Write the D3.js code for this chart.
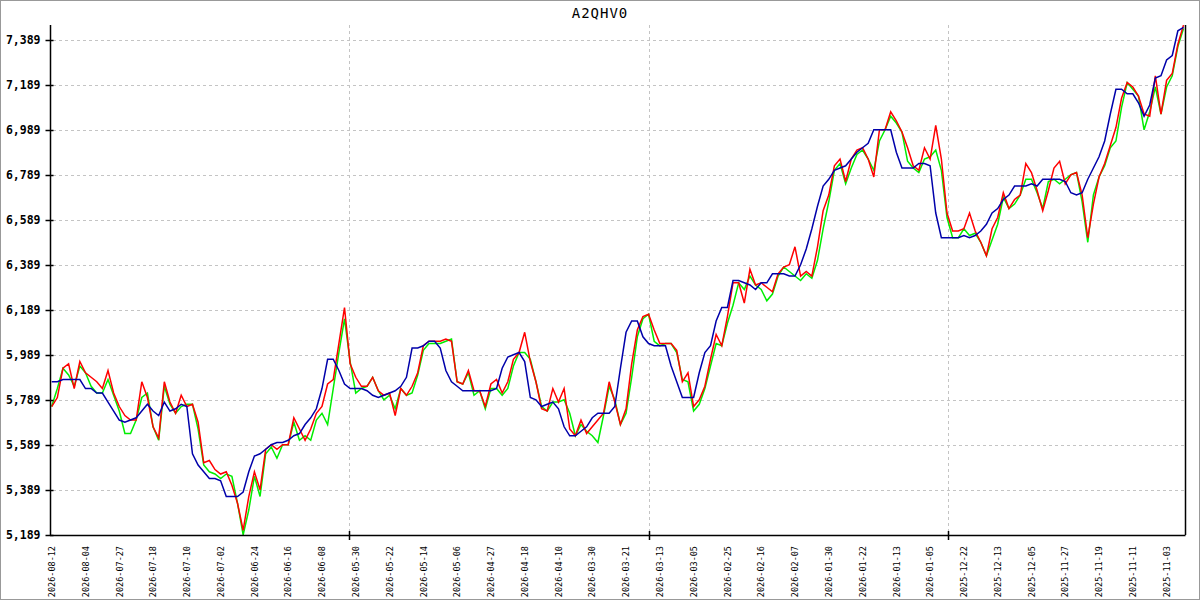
<!DOCTYPE html>
<html><head><meta charset="utf-8">
<script src="https://cdn.jsdelivr.net/npm/d3@7"></script>
<style>body{margin:0;background:#fff}svg{display:block}</style>
</head><body>
<svg id="c" width="1200" height="600"></svg>
<script>
const title = "A2QHV0";
const dateLabels = ["2026-08-12","2026-08-04","2026-07-27","2026-07-18","2026-07-10","2026-07-02","2026-06-24","2026-06-16","2026-06-08","2026-05-30","2026-05-22","2026-05-14","2026-05-06","2026-04-27","2026-04-18","2026-04-10","2026-03-30","2026-03-21","2026-03-13","2026-03-05","2026-02-25","2026-02-16","2026-02-07","2026-01-30","2026-01-22","2026-01-13","2026-01-05","2025-12-22","2025-12-13","2025-12-05","2025-11-27","2025-11-19","2025-11-11","2025-11-03"];
const labelStep = 6;
const yTicks = [5.189,5.389,5.589,5.789,5.989,6.189,6.389,6.589,6.789,6.989,7.189,7.389];
const yTickLabels = ["5,189","5,389","5,589","5,789","5,989","6,189","6,389","6,589","6,789","6,989","7,189","7,389"];

const red = [5.76,5.80,5.93,5.95,5.84,5.96,5.91,5.89,5.87,5.84,5.92,5.82,5.76,5.72,5.70,5.70,5.87,5.80,5.67,5.62,
5.87,5.78,5.73,5.81,5.76,5.77,5.69,5.51,5.52,5.48,5.46,5.47,5.41,5.33,5.21,5.36,5.47,5.39,5.57,5.59,
5.57,5.59,5.59,5.71,5.66,5.61,5.66,5.73,5.76,5.86,5.88,6.04,6.20,5.95,5.89,5.85,5.85,5.89,5.83,5.81,
5.82,5.72,5.84,5.81,5.85,5.91,6.03,6.05,6.05,6.05,6.06,6.05,5.87,5.86,5.92,5.83,5.83,5.76,5.86,5.88,
5.82,5.87,5.97,6.00,6.09,5.96,5.87,5.75,5.74,5.84,5.78,5.84,5.66,5.63,5.70,5.64,5.67,5.70,5.73,5.87,
5.78,5.68,5.75,5.95,6.10,6.16,6.17,6.10,6.04,6.04,6.04,6.01,5.87,5.91,5.76,5.79,5.85,5.97,6.08,6.03,
6.16,6.31,6.31,6.22,6.37,6.30,6.31,6.29,6.27,6.35,6.38,6.39,6.47,6.34,6.36,6.34,6.47,6.63,6.70,6.83,
6.86,6.76,6.86,6.90,6.91,6.86,6.78,6.99,6.99,7.07,7.03,6.98,6.91,6.83,6.81,6.91,6.86,7.01,6.86,6.62,
6.54,6.54,6.55,6.62,6.54,6.49,6.43,6.55,6.60,6.71,6.64,6.68,6.70,6.84,6.80,6.72,6.63,6.72,6.82,6.85,
6.75,6.79,6.80,6.70,6.51,6.66,6.78,6.84,6.92,7.00,7.13,7.20,7.18,7.14,7.06,7.05,7.23,7.06,7.21,7.24,
7.37,7.455];

const green = [5.76,5.84,5.93,5.90,5.85,5.94,5.91,5.85,5.82,5.82,5.88,5.81,5.74,5.64,5.64,5.70,5.80,5.82,5.67,5.61,
5.85,5.77,5.73,5.76,5.77,5.77,5.66,5.50,5.47,5.46,5.44,5.46,5.45,5.33,5.19,5.30,5.45,5.36,5.55,5.58,
5.53,5.59,5.59,5.69,5.61,5.63,5.61,5.70,5.73,5.68,5.84,6.00,6.15,5.96,5.82,5.84,5.85,5.89,5.83,5.79,
5.81,5.75,5.84,5.81,5.82,5.90,6.01,6.04,6.04,6.04,6.05,6.06,5.87,5.86,5.91,5.81,5.83,5.75,5.84,5.84,
5.81,5.84,5.94,6.00,6.00,5.97,5.87,5.76,5.74,5.78,5.78,5.79,5.73,5.63,5.68,5.65,5.63,5.60,5.72,5.85,
5.79,5.68,5.73,5.89,6.07,6.15,6.17,6.05,6.03,6.04,6.04,6.00,5.88,5.87,5.74,5.77,5.84,5.94,6.04,6.03,
6.13,6.21,6.31,6.28,6.34,6.30,6.28,6.23,6.26,6.34,6.38,6.36,6.34,6.32,6.35,6.33,6.41,6.55,6.67,6.81,
6.84,6.75,6.82,6.88,6.90,6.86,6.81,6.94,6.99,7.05,7.02,6.98,6.85,6.82,6.80,6.86,6.87,6.90,6.81,6.60,
6.51,6.51,6.55,6.52,6.53,6.49,6.43,6.50,6.57,6.69,6.64,6.66,6.70,6.77,6.77,6.71,6.64,6.76,6.77,6.75,
6.77,6.79,6.80,6.67,6.49,6.70,6.78,6.83,6.91,6.94,7.09,7.20,7.17,7.14,6.99,7.07,7.18,7.06,7.18,7.23,
7.36,7.44];

const blue = [5.87,5.87,5.88,5.88,5.88,5.88,5.84,5.84,5.82,5.82,5.78,5.74,5.70,5.69,5.70,5.71,5.74,5.77,5.74,5.72,
5.78,5.74,5.75,5.77,5.76,5.55,5.50,5.47,5.44,5.44,5.43,5.36,5.36,5.36,5.38,5.47,5.54,5.55,5.57,5.59,
5.60,5.60,5.61,5.63,5.64,5.68,5.71,5.75,5.84,5.97,5.97,5.92,5.86,5.84,5.84,5.84,5.83,5.81,5.80,5.81,
5.82,5.83,5.85,5.89,6.02,6.02,6.03,6.05,6.05,6.02,5.92,5.87,5.85,5.83,5.83,5.83,5.83,5.83,5.83,5.84,
5.93,5.98,5.99,6.00,5.96,5.80,5.79,5.76,5.77,5.78,5.75,5.67,5.63,5.63,5.65,5.67,5.71,5.73,5.73,5.73,
5.76,5.93,6.09,6.14,6.14,6.07,6.04,6.03,6.03,6.03,5.94,5.87,5.80,5.80,5.80,5.91,6.00,6.03,6.14,6.20,
6.20,6.32,6.32,6.31,6.30,6.28,6.31,6.31,6.35,6.35,6.35,6.34,6.34,6.39,6.46,6.55,6.65,6.74,6.77,6.81,
6.82,6.83,6.86,6.89,6.91,6.93,6.99,6.99,6.99,6.99,6.89,6.82,6.82,6.82,6.84,6.84,6.83,6.62,6.51,6.51,
6.51,6.51,6.52,6.51,6.52,6.54,6.57,6.62,6.64,6.68,6.70,6.74,6.74,6.74,6.75,6.74,6.77,6.77,6.77,6.77,
6.76,6.71,6.70,6.71,6.77,6.82,6.87,6.94,7.06,7.17,7.17,7.15,7.15,7.11,7.05,7.10,7.22,7.23,7.30,7.32,
7.43,7.445];

const W = 1200, H = 600;
const plot = {left: 50, right: 1185, top: 25, bottom: 535};
const svg = d3.select("#c");
const mono = "'DejaVu Sans Mono','Liberation Mono',monospace";

svg.append("rect").attr("x",0.5).attr("y",0.5).attr("width",W-1).attr("height",H-1)
  .attr("fill","#fff").attr("stroke","#999").attr("stroke-width",1);

const y = d3.scaleLinear().domain([5.189, 7.389 + 0.2*(15/45)]).range([plot.bottom, plot.top]);
const x = d3.scaleLinear().domain([0, red.length-1]).range([51.7, 1183.5]);

// horizontal grid
svg.append("g").selectAll("line").data(yTicks.slice(1)).join("line")
  .attr("x1", plot.left+3).attr("x2", plot.right)
  .attr("y1", d=>Math.round(y(d))+0.5).attr("y2", d=>Math.round(y(d))+0.5)
  .attr("stroke","#c4c4c4").attr("stroke-dasharray","3,3").attr("stroke-width",1);

// vertical grid
const vGrid = [1,2,3].map(k => plot.left + k*299.3);
svg.append("g").selectAll("line").data(vGrid).join("line")
  .attr("x1", d=>Math.round(d)+0.5).attr("x2", d=>Math.round(d)+0.5)
  .attr("y1", plot.top).attr("y2", plot.bottom)
  .attr("stroke","#c4c4c4").attr("stroke-dasharray","3,3").attr("stroke-width",1);

// series
const line = d3.line().x((d,i)=>x(i)).y(d=>y(d));
[[green,"#00ee00"],[red,"#ff0000"],[blue,"#0000aa"]].forEach(([s,c])=>{
  svg.append("path").datum(s).attr("d", line).attr("fill","none")
    .attr("stroke", c).attr("stroke-width", 1.5).attr("stroke-linejoin","miter");
});

// y axis
const yAxis = d3.axisLeft(y).tickValues(yTicks).tickFormat((d,i)=>yTickLabels[i]).tickSizeOuter(0);
const gy = svg.append("g").attr("transform", `translate(${plot.left+0.5},0)`).call(yAxis);
gy.select(".domain").remove();
gy.selectAll(".tick line").attr("x1",3).attr("x2",-5).attr("stroke","#000").attr("stroke-width",1.5);
gy.selectAll(".tick text").attr("x",-10).attr("font-family",mono).attr("font-size","11.5px")
  .attr("font-weight","bold").attr("fill","#000");
svg.append("line").attr("x1",plot.left+0.5).attr("x2",plot.left+0.5).attr("y1",plot.top).attr("y2",plot.bottom)
  .attr("stroke","#000").attr("stroke-width",1.5);

// x axis
const xAxis = d3.axisBottom(x).tickValues(dateLabels.map((d,i)=>i*labelStep))
  .tickFormat((d,i)=>dateLabels[i]).tickSize(0);
const gx = svg.append("g").attr("transform", `translate(0,${plot.bottom})`).call(xAxis);
gx.select(".domain").remove();
gx.selectAll(".tick text").attr("transform","rotate(-90)").attr("text-anchor","end")
  .attr("x",-11).attr("y",0).attr("dy","0.32em")
  .attr("font-family",mono).attr("font-size","8.5px").attr("fill","#000");
svg.append("line").attr("x1",plot.left).attr("x2",plot.right+0.5).attr("y1",plot.bottom+0.5).attr("y2",plot.bottom+0.5)
  .attr("stroke","#000").attr("stroke-width",1.5);
svg.append("g").selectAll("line").data(vGrid).join("line")
  .attr("x1", d=>Math.round(d)+0.5).attr("x2", d=>Math.round(d)+0.5)
  .attr("y1", plot.bottom-4).attr("y2", plot.bottom+5).attr("stroke","#000").attr("stroke-width",1.5);
svg.append("line").attr("x1",plot.right+0.5).attr("x2",plot.right+0.5).attr("y1",plot.top).attr("y2",plot.bottom)
  .attr("stroke","#000").attr("stroke-width",1.5);

// title
svg.append("text").attr("x",600).attr("y",18).attr("text-anchor","middle")
  .attr("font-family",mono).attr("font-size","14px").attr("letter-spacing","1px").attr("fill","#000").text(title);
</script>
</body></html>
